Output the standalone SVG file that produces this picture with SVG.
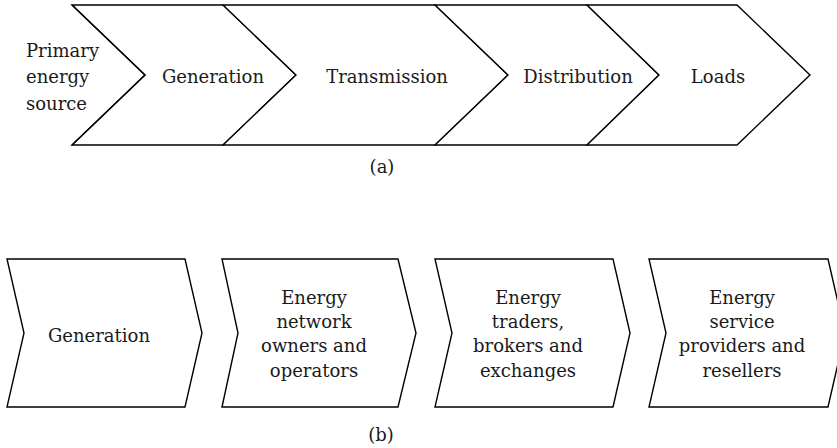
<svg xmlns="http://www.w3.org/2000/svg" width="837" height="448" viewBox="0 0 837 448">
<style>
.s{fill:#fff;stroke:#000;stroke-width:1.4;stroke-linejoin:miter}
.l{fill:none;stroke:#000;stroke-width:1.4}
text{font-family:"DejaVu Serif","Liberation Serif",serif;font-size:18px;fill:#1a1a1a;text-anchor:middle}
.st{text-anchor:start}
</style>
<rect width="837" height="448" fill="#fff"/>
<g id="a-generation"><polygon class="s" points="72,5 223,5 296,75 223,145 72,145 145,75"/><text x="213" y="83">Generation</text></g>
<g id="a-transmission"><polygon class="s" points="223,5 435,5 508,75 435,145 223,145 296,75"/><text x="387" y="83">Transmission</text></g>
<g id="a-distribution"><polygon class="s" points="435,5 587,5 659,75 587,145 435,145 508,75"/><text x="578" y="83">Distribution</text></g>
<g id="a-loads"><polygon class="s" points="587,5 737,5 810,75 737,145 587,145 659,75"/><text x="718" y="83">Loads</text></g>
<g id="a-primary"><path class="l" d="M72,5 L145,75 L72,145"/><text class="st" x="26" y="57">Primary</text><text class="st" x="26" y="83">energy</text><text class="st" x="26" y="110">source</text></g>
<text x="382" y="173">(a)</text>
<g id="b-generation"><polygon class="s" points="7,259 185,259 202,333 185,407 7,407 24,333"/><text x="99" y="342">Generation</text></g>
<g id="b-network"><polygon class="s" points="222,259 398,259 416,333 398,407 222,407 238,333"/><text x="314" y="304">Energy</text><text x="314" y="328">network</text><text x="314" y="352">owners and</text><text x="314" y="377">operators</text></g>
<g id="b-traders"><polygon class="s" points="435,259 613,259 630,333 613,407 435,407 452,333"/><text x="528" y="304">Energy</text><text x="528" y="328">traders,</text><text x="528" y="352">brokers and</text><text x="528" y="377">exchanges</text></g>
<g id="b-service"><polygon class="s" points="649,259 828,259 845,333 828,407 649,407 666,333"/><text x="742" y="304">Energy</text><text x="742" y="328">service</text><text x="742" y="352">providers and</text><text x="742" y="377">resellers</text></g>
<text x="381" y="441">(b)</text>
<g id="connectors"/>
</svg>
